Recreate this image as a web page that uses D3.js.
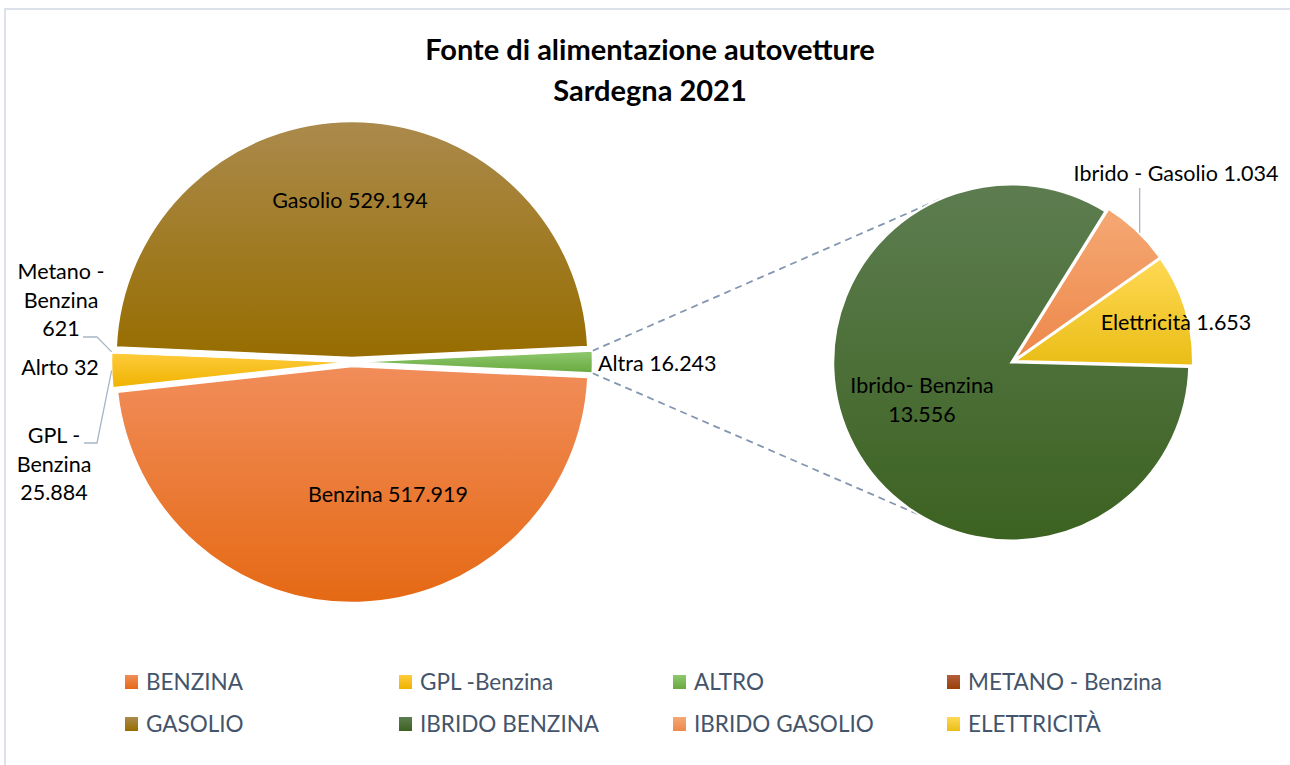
<!DOCTYPE html>
<html>
<head>
<meta charset="utf-8">
<script src="https://cdn.jsdelivr.net/npm/d3@7"></script>
<style>
  body { margin: 0; background: #fff; }
  text { font-family: Lato, "Open Sans", sans-serif; }
</style>
</head>
<body>
<script>
// Data
const mainCategories = ["Altra", "Benzina", "GPL - Benzina", "Alrto", "Metano - Benzina", "Gasolio"];
const mainValues = [16243, 517919, 25884, 32, 621, 529194];

const subCategories = ["Ibrido- Benzina", "Ibrido - Gasolio", "Elettricità"];
const subValues = [13556, 1034, 1653];

const legendLabels = ["BENZINA", "GPL -Benzina", "ALTRO", "METANO - Benzina",
                      "GASOLIO", "IBRIDO BENZINA", "IBRIDO GASOLIO", "ELETTRICITÀ"];

// Variables
const width = 1290;
const height = 765;
const main = {cx: 352, cy: 362, r: 236, explode: 4.5};
const sub = {cx: 1013, cy: 361.5, r: 178, explode: 2};

// colours (top, bottom of the gradient)
const colors = {
  "Benzina": ["#f18d5a", "#e56914"],
  "GPL - Benzina": ["#ffcb3c", "#efb300"],
  "Alrto": ["#8fc86e", "#69a940"],
  "Altra": ["#8fc86e", "#69a940"],
  "Metano - Benzina": ["#b35e3e", "#993f06"],
  "Gasolio": ["#ab8a4c", "#976d00"],
  "Ibrido- Benzina": ["#5d7d50", "#3c6221"],
  "Ibrido - Gasolio": ["#f5a874", "#ed884a"],
  "Elettricità": ["#ffd954", "#eabd16"]
};
const legendColors = ["Benzina", "GPL - Benzina", "Altra", "Metano - Benzina",
                      "Gasolio", "Ibrido- Benzina", "Ibrido - Gasolio", "Elettricità"];

const it = d3.formatLocale({decimal: ",", thousands: ".", grouping: [3], currency: ["€", ""]});
const fmt = it.format(",");

const svg = d3.select("body")
              .append("svg")
              .attr("width", width)
              .attr("height", height);

// gradients
const defs = svg.append("defs");
Object.keys(colors).forEach((k, i) => {
  const g = defs.append("linearGradient")
                .attr("id", "g" + i)
                .attr("x1", 0).attr("y1", 0).attr("x2", 0).attr("y2", 1);
  g.append("stop").attr("offset", "0%").attr("stop-color", colors[k][0]);
  g.append("stop").attr("offset", "100%").attr("stop-color", colors[k][1]);
});
const fillOf = k => `url(#g${Object.keys(colors).indexOf(k)})`;

// chart border
svg.append("rect")
   .attr("x", 5).attr("y", 9)
   .attr("width", width + 10).attr("height", height + 10)
   .attr("fill", "none")
   .attr("stroke", "#dde2ea")
   .attr("stroke-width", 2);

// title
svg.append("text")
   .attr("x", 650).attr("y", 60)
   .attr("text-anchor", "middle")
   .attr("font-weight", "bold")
   .attr("font-size", 29)
   .text("Fonte di alimentazione autovetture");
svg.append("text")
   .attr("x", 650).attr("y", 101)
   .attr("text-anchor", "middle")
   .attr("font-weight", "bold")
   .attr("font-size", 29)
   .text("Sardegna 2021");

// main pie
const mainData = mainCategories.map((c, i) => ({name: c, value: mainValues[i]}));
const total = d3.sum(mainValues);
const a0 = Math.PI / 2 - mainValues[0] / total * Math.PI;
const mainArcs = d3.pie().sort(null).value(d => d.value)
                   .startAngle(a0).endAngle(a0 + 2 * Math.PI)(mainData);

const subData = subCategories.map((c, i) => ({name: c, value: subValues[i]}));
const s0 = Math.PI / 2 + 0.026;
const subArcs = d3.pie().sort(null).value(d => d.value)
                  .startAngle(s0).endAngle(s0 + 2 * Math.PI)(subData);

const mid = d => (d.startAngle + d.endAngle) / 2;
const off = (d, e) => [e * Math.sin(mid(d)), -e * Math.cos(mid(d))];
const polar = (cx, cy, r, a) => [cx + r * Math.sin(a), cy - r * Math.cos(a)];

// connector lines (tangents from the Altra slice to the second pie)
const altra = mainArcs[0];
const [ax, ay] = off(altra, main.explode);
function tangent(P, upper) {
  const C = [sub.cx, sub.cy];
  const d = Math.hypot(P[0] - C[0], P[1] - C[1]);
  const phi = Math.atan2(P[1] - C[1], P[0] - C[0]);
  const a = Math.acos(sub.r / d);
  const t1 = [C[0] + sub.r * Math.cos(phi + a), C[1] + sub.r * Math.sin(phi + a)];
  const t2 = [C[0] + sub.r * Math.cos(phi - a), C[1] + sub.r * Math.sin(phi - a)];
  return upper ? (t1[1] < t2[1] ? t1 : t2) : (t1[1] > t2[1] ? t1 : t2);
}
const pTop = polar(main.cx + ax, main.cy + ay, main.r, altra.startAngle);
const pBot = polar(main.cx + ax, main.cy + ay, main.r, altra.endAngle);
[[pTop, tangent(pTop, true)], [pBot, tangent(pBot, false)]].forEach(seg => {
  svg.append("line")
     .attr("x1", seg[0][0]).attr("y1", seg[0][1])
     .attr("x2", seg[1][0]).attr("y2", seg[1][1])
     .attr("stroke", "#8497b0")
     .attr("stroke-width", 1.8)
     .attr("stroke-dasharray", "7,5");
});

const mainArc = d3.arc().innerRadius(0).outerRadius(main.r);
svg.append("g")
   .attr("transform", `translate(${main.cx},${main.cy})`)
   .selectAll("path")
   .data(mainArcs)
   .enter()
   .append("path")
   .attr("d", mainArc)
   .attr("transform", d => `translate(${off(d, main.explode)})`)
   .attr("fill", d => fillOf(d.data.name))
   .attr("stroke", "#fff")
   .attr("stroke-width", 1.5);

const subArc = d3.arc().innerRadius(0).outerRadius(sub.r);
svg.append("g")
   .attr("transform", `translate(${sub.cx},${sub.cy})`)
   .selectAll("path")
   .data(subArcs)
   .enter()
   .append("path")
   .attr("d", subArc)
   .attr("transform", d => `translate(${off(d, sub.explode)})`)
   .attr("fill", d => fillOf(d.data.name))
   .attr("stroke", "#fff")
   .attr("stroke-width", 2);

// labels
const labelLayout = {
  "Gasolio":          {x: 350, y: 208, anchor: "middle", lines: d => ["Gasolio " + fmt(d.value)]},
  "Benzina":          {x: 388, y: 502, anchor: "middle", lines: d => ["Benzina " + fmt(d.value)]},
  "Altra":            {x: 598, y: 371, anchor: "start",  lines: d => ["Altra " + fmt(d.value)]},
  "Metano - Benzina": {x: 61,  y: 279, anchor: "middle", lines: d => ["Metano -", "Benzina", fmt(d.value)]},
  "Alrto":            {x: 60,  y: 375, anchor: "middle", lines: d => ["Alrto " + fmt(d.value)]},
  "GPL - Benzina":    {x: 54,  y: 443, anchor: "middle", lines: d => ["GPL -", "Benzina", fmt(d.value)]},
  "Ibrido- Benzina":  {x: 922, y: 393, anchor: "middle", lines: d => ["Ibrido- Benzina", fmt(d.value)]},
  "Ibrido - Gasolio": {x: 1176, y: 181, anchor: "middle", lines: d => ["Ibrido - Gasolio " + fmt(d.value)]},
  "Elettricità":      {x: 1176, y: 330, anchor: "middle", lines: d => ["Elettricità " + fmt(d.value)]}
};

// leader lines
const leader = "#a9b6c8";
function edge(d, c) {
  const [ox, oy] = off(d, c.explode);
  return polar(c.cx + ox, c.cy + oy, c.r, mid(d));
}
const metano = mainArcs.find(d => d.data.name === "Metano - Benzina");
const gpl = mainArcs.find(d => d.data.name === "GPL - Benzina");
const ibg = subArcs.find(d => d.data.name === "Ibrido - Gasolio");
const eM = edge(metano, main), eG = edge(gpl, main), eI = edge(ibg, sub);
const line = d3.line();
svg.append("path").attr("d", line([[83, 337], [97, 337], eM]))
   .attr("fill", "none").attr("stroke", leader).attr("stroke-width", 1.3);
svg.append("path").attr("d", line([eG, [97, 443], [84, 443]]))
   .attr("fill", "none").attr("stroke", leader).attr("stroke-width", 1.3);
svg.append("path").attr("d", line([[eI[0] + 3, 188], [eI[0] + 3, eI[1] + 2]]))
   .attr("fill", "none").attr("stroke", leader).attr("stroke-width", 1.3);

mainArcs.concat(subArcs).forEach(d => {
  const L = labelLayout[d.data.name];
  const t = svg.append("text")
               .attr("x", L.x).attr("y", L.y)
               .attr("text-anchor", L.anchor)
               .attr("font-size", 21.5)
               .attr("fill", "#000");
  L.lines(d.data).forEach((s, i) => {
    t.append("tspan").attr("x", L.x).attr("dy", i ? 28.5 : 0).text(s);
  });
});

// legend
const legend = svg.append("g");
legendLabels.forEach((lab, i) => {
  const col = i % 4, row = Math.floor(i / 4);
  const x = 125 + col * 274, y = 682 + row * 42;
  legend.append("rect")
        .attr("x", x).attr("y", y - 7)
        .attr("width", 13).attr("height", 14)
        .attr("fill", fillOf(legendColors[i]));
  legend.append("text")
        .attr("x", x + 21).attr("y", y + 8)
        .attr("font-size", 22.5)
        .attr("fill", "#44546a")
        .text(lab);
});
</script>
</body>
</html>
